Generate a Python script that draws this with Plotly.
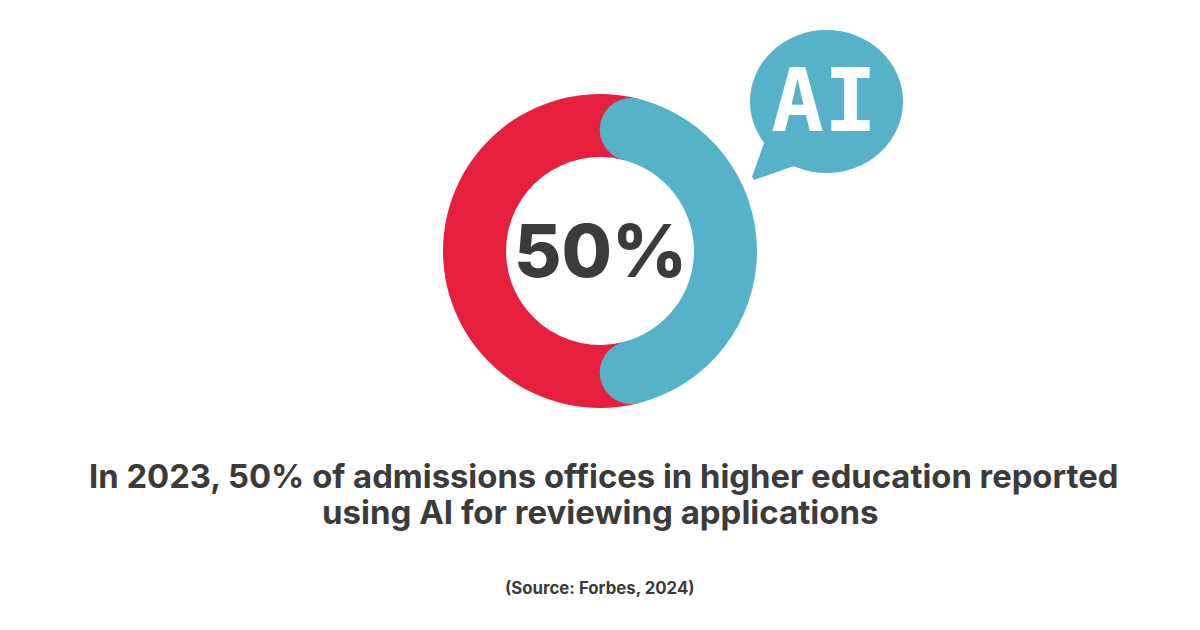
import math
import plotly.graph_objects as go

categories = ["AI", "Other"]
values = [50, 50]
cap_share = 8
colors = ["#56B2C8", "#E61F3C"]
center_label = "50%"
bubble_label = "AI"
title_lines = ["In 2023, 50% of admissions offices in higher education reported",
               "using AI for reviewing applications"]
source = "(Source: Forbes, 2024)"

W, H = 1200, 630
TEXT = "#3C3A3B"
cx, cy, R, r = 600, 251, 157, 94
HOLE = r / R


def px(x):
    return x / W


def py(y):
    return 1 - y / H


# The blue band keeps its 50% span: part of it is drawn as the sector, the rest as the round caps.
shown = [values[0] - cap_share, values[1] + cap_share]
fig = go.Figure(go.Pie(
    labels=categories, values=shown, hole=HOLE, sort=False, direction="clockwise",
    rotation=360 * (cap_share / 2) / 100,
    marker=dict(colors=colors, line=dict(width=0)), textinfo="none", hoverinfo="label",
    showlegend=False,
    domain=dict(x=[px(cx - R), px(cx + R)], y=[py(cy + R), py(cy - R)]),
))

mid = (R + r) / 2
half = (R - r) / 2
ang = math.radians(360 * (cap_share / 2) / 100)
shapes = []
for sign in (1, -1):
    ccx = cx + mid * math.sin(ang)
    ccy = cy - sign * mid * math.cos(ang)
    shapes.append(dict(type="circle", xref="paper", yref="paper", layer="above",
                       x0=px(ccx - half), x1=px(ccx + half), y0=py(ccy + half), y1=py(ccy - half),
                       fillcolor=colors[0], line=dict(width=0)))

# Speech bubble (slightly wider than tall)
bx, by, brx, bry = 826.5, 101.5, 76.5, 71.5
shapes.append(dict(type="circle", xref="paper", yref="paper", layer="above",
                   x0=px(bx - brx), x1=px(bx + brx), y0=py(by + bry), y1=py(by - bry),
                   fillcolor=colors[0], line=dict(width=0)))
tail = [(764, 143), (752, 177), (754, 180), (794, 166), (810, 140), (780, 125)]
path = "M " + " L ".join(f"{px(x):.5f},{py(y):.5f}" for x, y in tail) + " Z"
shapes.append(dict(type="path", xref="paper", yref="paper", layer="above", path=path,
                   fillcolor=colors[0], line=dict(width=0)))

annotations = [
    dict(text=center_label, x=px(600), y=py(251), font=dict(family="Inter", size=73, color=TEXT, weight=800)),
    dict(text=bubble_label, x=px(824), y=py(101), font=dict(family="DejaVu Sans Mono", size=88, color="white", weight=700)),
    dict(text=title_lines[0], x=px(603.5), y=py(476), font=dict(family="Inter", size=32.8, color=TEXT, weight=700)),
    dict(text=title_lines[1], x=px(600), y=py(512), font=dict(family="Inter", size=33, color=TEXT, weight=700)),
    dict(text=source, x=px(600), y=py(588), font=dict(family="Inter", size=16.8, color=TEXT, weight=700)),
]
for a in annotations:
    a.update(xref="paper", yref="paper", showarrow=False, xanchor="center", yanchor="middle")

fig.update_layout(width=W, height=H, margin=dict(l=0, r=0, t=0, b=0), paper_bgcolor="white",
                  plot_bgcolor="white", shapes=shapes, annotations=annotations)
fig.write_html("out.html", config={"displayModeBar": False}, post_script="document.body.style.margin='0';")
